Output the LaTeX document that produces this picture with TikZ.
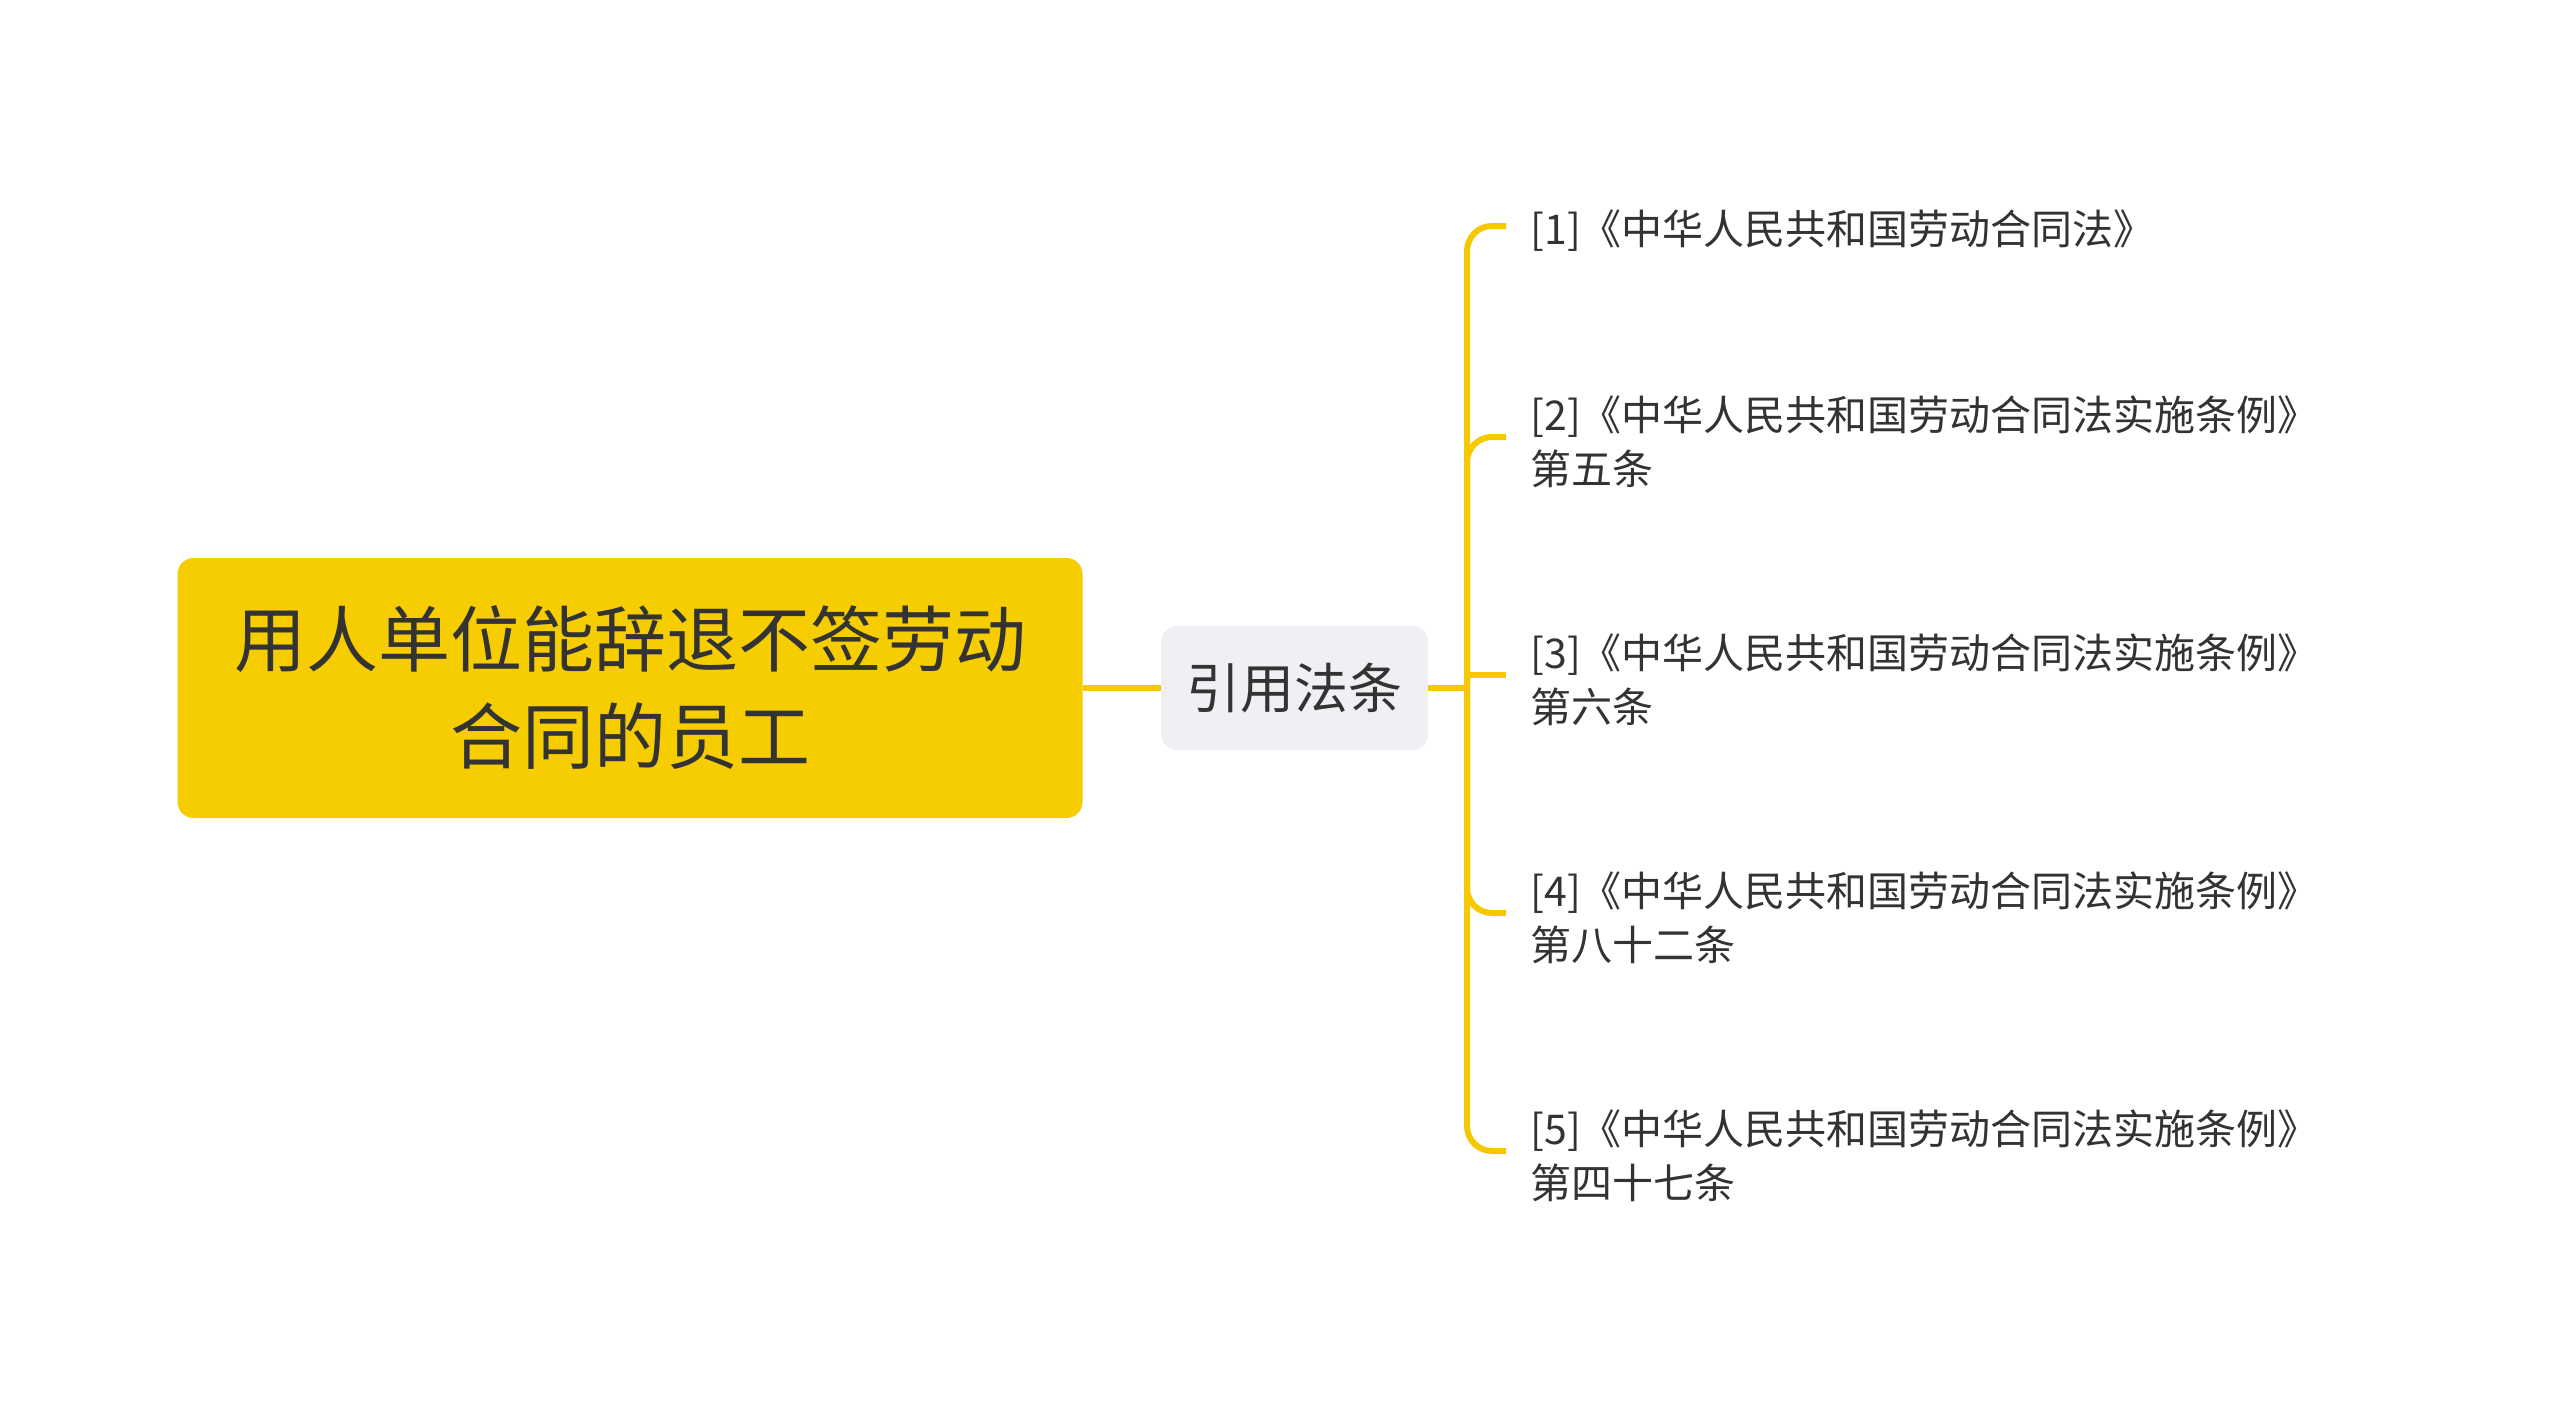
\documentclass[tikz,border=0pt]{standalone}
\usepackage{fontspec}
\setmainfont{Noto Sans CJK SC}
\usetikzlibrary{calc}
\definecolor{rootyellow}{HTML}{F5CD00}
\definecolor{lineyellow}{HTML}{F5C800}
\definecolor{subgray}{HTML}{EEF0F3}
\definecolor{txt}{HTML}{333333}
\tikzset{
  rootbox/.style={fill=rootyellow, rounded corners=8pt, minimum width=452.5pt, minimum height=130pt,
    inner sep=0pt, align=center, text=txt, font=\fontsize{36}{48.5}\selectfont},
  subbox/.style={fill=subgray, rounded corners=8pt, minimum width=133.5pt, minimum height=62pt,
    inner sep=0pt, text=txt, font=\fontsize{27}{32}\selectfont},
  leaf/.style={anchor=west, inner sep=0pt, align=left, text=txt, yshift=-2.5pt,
    font=\fontsize{20.5}{27}\selectfont},
  conn/.style={draw=lineyellow, line width=3pt},
  branch/.style={conn, rounded corners=12.5pt},
}
\begin{document}
\begin{tikzpicture}[x=0.5pt,y=-0.5pt]
\useasboundingbox[fill=white] (0,0) rectangle (2560,1405);
\node[rootbox] (root) at (630,688) {用人单位能辞退不签劳动\\合同的员工};
\node[subbox] (sub) at (1294.5,688) {引用法条};
\coordinate (J) at (1467,688);
\node[leaf] (l1) at (1530,226) {[1]《中华人民共和国劳动合同法》};
\node[leaf] (l2) at (1530,437) {[2]《中华人民共和国劳动合同法实施条例》\\第五条};
\node[leaf] (l3) at (1530,675) {[3]《中华人民共和国劳动合同法实施条例》\\第六条};
\node[leaf] (l4) at (1530,913) {[4]《中华人民共和国劳动合同法实施条例》\\第八十二条};
\node[leaf] (l5) at (1530,1151) {[5]《中华人民共和国劳动合同法实施条例》\\第四十七条};
\coordinate (b1) at ([xshift=-12pt,yshift=2.5pt]l1.west);
\coordinate (b2) at ([xshift=-12pt,yshift=2.5pt]l2.west);
\coordinate (b3) at ([xshift=-12pt,yshift=2.5pt]l3.west);
\coordinate (b4) at ([xshift=-12pt,yshift=2.5pt]l4.west);
\coordinate (b5) at ([xshift=-12pt,yshift=2.5pt]l5.west);
\draw[conn] (root.east) -- (sub.west);
\draw[conn] (sub.east) -- (J);
\draw[branch] (J) |- (b1);
\draw[branch] (J) |- (b2);
\draw[conn] (J) -- (J |- b3) -- (b3);
\draw[branch] (J) |- (b4);
\draw[branch] (J) |- (b5);
\end{tikzpicture}
\end{document}
